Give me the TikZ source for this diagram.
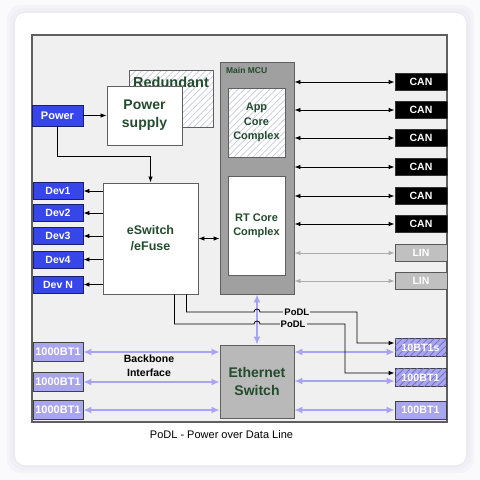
\documentclass[tikz,border=0pt]{standalone}
\usepackage{fontspec}
\setmainfont{Liberation Sans}
\usepackage{tikz}
\usetikzlibrary{calc, patterns, patterns.meta, arrows.meta}

\definecolor{ink}{RGB}{35,75,45}
\definecolor{panel}{RGB}{240,240,240}
\definecolor{frameline}{RGB}{95,95,95}
\definecolor{devblue}{RGB}{55,70,235}
\definecolor{devline}{RGB}{25,30,110}
\definecolor{lav}{RGB}{170,166,238}
\definecolor{lavline}{RGB}{168,163,242}
\definecolor{lavhatch}{RGB}{115,110,200}
\definecolor{hatch}{RGB}{200,202,222}
\definecolor{mcugray}{RGB}{160,160,160}
\definecolor{swgray}{RGB}{185,185,185}
\definecolor{lingray}{RGB}{192,192,192}
\definecolor{linline}{RGB}{172,172,172}
\definecolor{pagebg}{RGB}{250,250,252}
\definecolor{cardshadow}{RGB}{232,232,242}

\newcommand{\setfs}[2]{\fontsize{#1}{#2}\selectfont}

\begin{document}
\begin{tikzpicture}[x=1pt, y=-1pt,
		blk/.style = {draw=frameline, line width=0.9pt, inner sep=0pt, align=center, text=ink},
		hatched/.style = {preaction={fill=white}, pattern={Lines[angle=45, distance=4.5pt, line width=0.7pt]}, pattern color=hatch},
		port/.style = {draw=devline, line width=0.8pt, fill=devblue, text=white, inner sep=0pt, minimum width=50pt, minimum height=17pt, font=\bfseries\setfs{10.5}{12}},
		bus/.style = {draw=black!80, line width=0.8pt, fill=black, text=white, inner sep=0pt, minimum width=52pt, minimum height=17pt, font=\bfseries\setfs{10.5}{12}},
		lin/.style = {bus, draw=black!65, fill=lingray},
		eth/.style = {draw=black!75, line width=0.8pt, fill=lav, text=white, inner sep=0pt, minimum width=51pt, minimum height=18pt, font=\bfseries\setfs{10.7}{12}},
		ethhatch/.style = {eth, postaction={pattern={Lines[angle=45, distance=4.5pt, line width=0.8pt]}, pattern color=lavhatch}},
		arr/.style = {line width=0.8pt, -{Latex[length=6pt, width=4.5pt]}},
		darr/.style = {line width=0.8pt, {Latex[length=6pt, width=4.5pt]}-{Latex[length=6pt, width=4.5pt]}},
		larr/.style = {draw=lavline, line width=1.4pt, {Latex[length=8pt, width=7pt]}-{Latex[length=8pt, width=7pt]}},
		podl/.style = {fill=panel, inner sep=1pt, font=\bfseries\setfs{9.5}{11}}
	]
	\useasboundingbox (0,0) rectangle (480,480);
	\fill[pagebg] (0,0) rectangle (480,480);
	\foreach \s/\o in {8/0.3, 5/0.4, 2/0.6}
		\fill[cardshadow, opacity=\o, rounded corners=14pt] (15-\s,13-\s) rectangle (466+\s,465+\s);
	\fill[white, rounded corners=10pt] (15,13) rectangle (466,465);

	\draw[draw=frameline, line width=1.3pt, fill=panel] (32,35) rectangle (447,422);

	\node[blk, hatched, minimum width=84pt, minimum height=57pt,
		label={[anchor=base, yshift=-18pt, text=ink, font=\bfseries\setfs{14.5}{16}]north:Redundant}] (redundant) at (171,98.5) {};
	\node[blk, fill=white, minimum width=75pt, minimum height=59pt, font=\bfseries\setfs{14}{18}] (psupply) at (144.5,115.5) {Power\\supply};
	\node[port, minimum width=51pt, minimum height=21pt, font=\bfseries\setfs{11}{12}] (power) at (57.5,115.5) {Power};
	\node[blk, fill=white, minimum width=95pt, minimum height=111pt, font=\bfseries\setfs{12.5}{16}] (eswitch) at (150.5,238.5) {eSwitch\\/eFuse};

	\node[blk, fill=mcugray, minimum width=74pt, minimum height=232pt,
		label={[anchor=base west, xshift=3pt, yshift=-12pt, text=ink, font=\bfseries\setfs{8.5}{10}]north west:Main MCU}] (mcu) at (257,178) {};
	\node[blk, hatched, minimum width=57pt, minimum height=69pt, font=\bfseries\setfs{11}{14.5}] (app) at (256.5,122.5) {App\\Core\\Complex};
	\node[blk, fill=white, minimum width=57pt, minimum height=99pt, font=\bfseries\setfs{11}{14}] (rt) at (256.5,225.5) {RT Core\\Complex};
	\node[blk, fill=swgray, minimum width=74pt, minimum height=73pt, font=\bfseries\setfs{14}{18}] (ethsw) at (257,381.5) {Ethernet\\Switch};

	\draw[arr] (power) -- (psupply);
	\draw[arr] (power.south) -- ++(0,30) -| (eswitch.north);
	\draw[darr] (eswitch.east) -- (eswitch.east -| mcu.west);

	\foreach \i/\t/\y in {1/Dev1/191, 2/Dev2/213, 3/Dev3/236, 4/Dev4/259.5, 5/Dev N/284.5} {
		\node[port] (dev\i) at (58,\y) {\t};
		\draw[arr] (eswitch.west |- dev\i) -- (dev\i);
	}

	\foreach \i/\y in {1/82, 2/110, 3/138, 4/167, 5/196, 6/224} {
		\node[bus] (can\i) at (421,\y) {CAN};
		\draw[darr] (mcu.east |- can\i) -- (can\i);
	}
	\foreach \i/\y in {1/253, 2/281} {
		\node[lin] (lin\i) at (421,\y) {LIN};
		\draw[darr, draw=linline, {Latex[length=6pt, width=4.5pt, color=linline]}-{Latex[length=6pt, width=4.5pt, color=linline]}] (mcu.east |- lin\i) -- (lin\i);
	}

	\foreach \i/\y in {1/352, 2/382, 3/410} {
		\node[eth, minimum width=50pt, minimum height=19pt, font=\bfseries\setfs{11}{12}] (bb\i) at (58,\y) {1000BT1};
		\draw[larr] (bb\i) -- (ethsw.west |- bb\i);
	}
	\node[ethhatch] (eth1) at (420.5,347.5) {10BT1s};
	\node[ethhatch] (eth2) at (420.5,377.5) {100BT1};
	\node[eth] (eth3) at (420.5,410) {100BT1};
	\draw[larr] (ethsw.east |- bb1) -- (eth1.west |- bb1);
	\draw[larr] (ethsw.east |- 0,381) -- (eth2.west |- 0,381);
	\draw[larr] (ethsw.east |- bb3) -- (eth3.west |- bb3);
	\draw[larr] (mcu.south) -- (ethsw.north);

	\node[align=center, font=\bfseries\setfs{10.5}{14}] (backbone) at (149,366) {Backbone\\Interface};

	\draw[arr] ($(eswitch.south east)+(-12,0)$) |- (254,312) arc[start angle=180, end angle=360, radius=3]
		-- node[podl, pos=0.38] (podl1) {PoDL} (357,312) |- ($(eth1.west)+(0,-4.5)$);
	\draw[arr] ($(eswitch.south east)+(-24,0)$) |- (254,324) arc[start angle=180, end angle=360, radius=3]
		-- node[podl, pos=0.39] (podl2) {PoDL} (345,324) |- ($(eth2.west)+(0,-4.5)$);

	\node[font=\setfs{11}{13}] (caption) at (221.5,435) {PoDL - Power over Data Line};
\end{tikzpicture}
\end{document}
